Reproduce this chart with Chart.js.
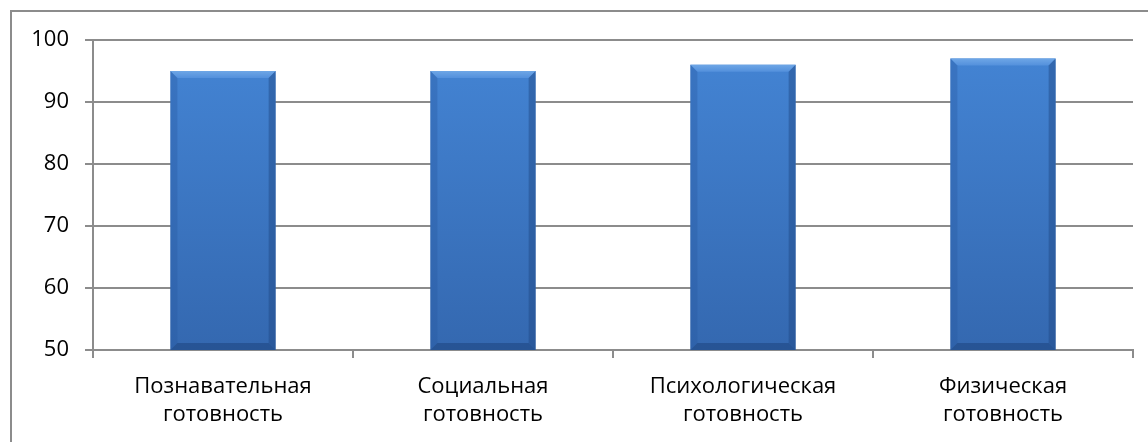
<!DOCTYPE html>
<html>
<head>
<meta charset="utf-8">
<script src="https://cdn.jsdelivr.net/npm/chart.js@4/dist/chart.umd.min.js"></script>
<style>
    html, body { margin: 0; padding: 0; background: #fff; overflow: hidden; }
    #frame { position: absolute; left: 10px; top: 10px; width: 1300px; height: 600px; border: 2px solid #8c8c8c; box-sizing: border-box; }
    #wrap { position: absolute; left: 0; top: 0; width: 1148px; height: 442px; }
</style>
</head>
<body>
<div id="frame"></div>
<div id="wrap"><canvas id="readinessChart" width="1148" height="442"></canvas></div>
<script>
const categories = [
    ['Познавательная', 'готовность'],
    ['Социальная', 'готовность'],
    ['Психологическая', 'готовность'],
    ['Физическая', 'готовность']
];
const values = [95, 95, 96, 97];
const yMin = 50;
const yMax = 100;
const yStep = 10;

// Excel-like bevel on top of the plain bars
const bevelPlugin = {
    id: 'bevel',
    afterDatasetsDraw(chart) {
        const ctx = chart.ctx;
        const bottom = chart.scales.y.getPixelForValue(yMin);
        chart.getDatasetMeta(0).data.forEach(bar => {
            const l = bar.x - bar.width / 2;
            const r = bar.x + bar.width / 2;
            const t = bar.y;
            const b = bottom;
            const e = 7;
            ctx.save();
            // top face
            let g = ctx.createLinearGradient(0, t, 0, t + e);
            g.addColorStop(0, '#6ea6e6');
            g.addColorStop(1, '#5390dc');
            ctx.fillStyle = g;
            ctx.beginPath();
            ctx.moveTo(l, t); ctx.lineTo(r, t); ctx.lineTo(r - e, t + e); ctx.lineTo(l + e, t + e);
            ctx.closePath(); ctx.fill();
            // left face
            ctx.fillStyle = 'rgba(40, 90, 160, 0.35)';
            ctx.beginPath();
            ctx.moveTo(l, t); ctx.lineTo(l + e, t + e); ctx.lineTo(l + e, b - e); ctx.lineTo(l, b);
            ctx.closePath(); ctx.fill();
            // right face
            ctx.fillStyle = 'rgba(30, 70, 130, 0.45)';
            ctx.beginPath();
            ctx.moveTo(r, t); ctx.lineTo(r - e, t + e); ctx.lineTo(r - e, b - e); ctx.lineTo(r, b);
            ctx.closePath(); ctx.fill();
            // bottom face
            ctx.fillStyle = 'rgba(25, 60, 115, 0.45)';
            ctx.beginPath();
            ctx.moveTo(l, b); ctx.lineTo(l + e, b - e); ctx.lineTo(r - e, b - e); ctx.lineTo(r, b);
            ctx.closePath(); ctx.fill();
            ctx.restore();
        });
    }
};

const ctx = document.getElementById('readinessChart').getContext('2d');
new Chart(ctx, {
    type: 'bar',
    data: {
        labels: categories,
        datasets: [{
            data: values,
            backgroundColor: function(context) {
                const area = context.chart.chartArea;
                if (!area) return '#3d7cc9';
                const g = context.chart.ctx.createLinearGradient(0, area.top, 0, area.bottom);
                g.addColorStop(0, '#4485d5');
                g.addColorStop(1, '#3468b0');
                return g;
            },
            borderWidth: 0,
            barPercentage: 0.405,
            categoryPercentage: 1
        }]
    },
    plugins: [bevelPlugin],
    options: {
        responsive: false,
        animation: false,
        layout: {
            padding: { left: 0, right: 15, top: 40, bottom: 0 }
        },
        plugins: {
            legend: { display: false },
            tooltip: { enabled: false }
        },
        scales: {
            y: {
                min: yMin,
                max: yMax,
                afterFit(scale) { scale.width = 93; },
                ticks: {
                    stepSize: yStep,
                    color: '#000',
                    padding: 16,
                    font: { family: 'Open Sans', size: 22 }
                },
                grid: {
                    color: '#8c8c8c',
                    lineWidth: 2,
                    tickLength: 8
                },
                border: { color: '#8c8c8c', width: 2 }
            },
            x: {
                afterFit(scale) { scale.height = 92; },
                ticks: {
                    color: '#000',
                    padding: 14,
                    font: { family: 'Open Sans', size: 22, lineHeight: 1.3 }
                },
                grid: {
                    offset: true,
                    drawOnChartArea: false,
                    color: '#8c8c8c',
                    lineWidth: 2,
                    tickLength: 8
                },
                border: { color: '#8c8c8c', width: 2 }
            }
        }
    }
});
</script>
</body>
</html>
